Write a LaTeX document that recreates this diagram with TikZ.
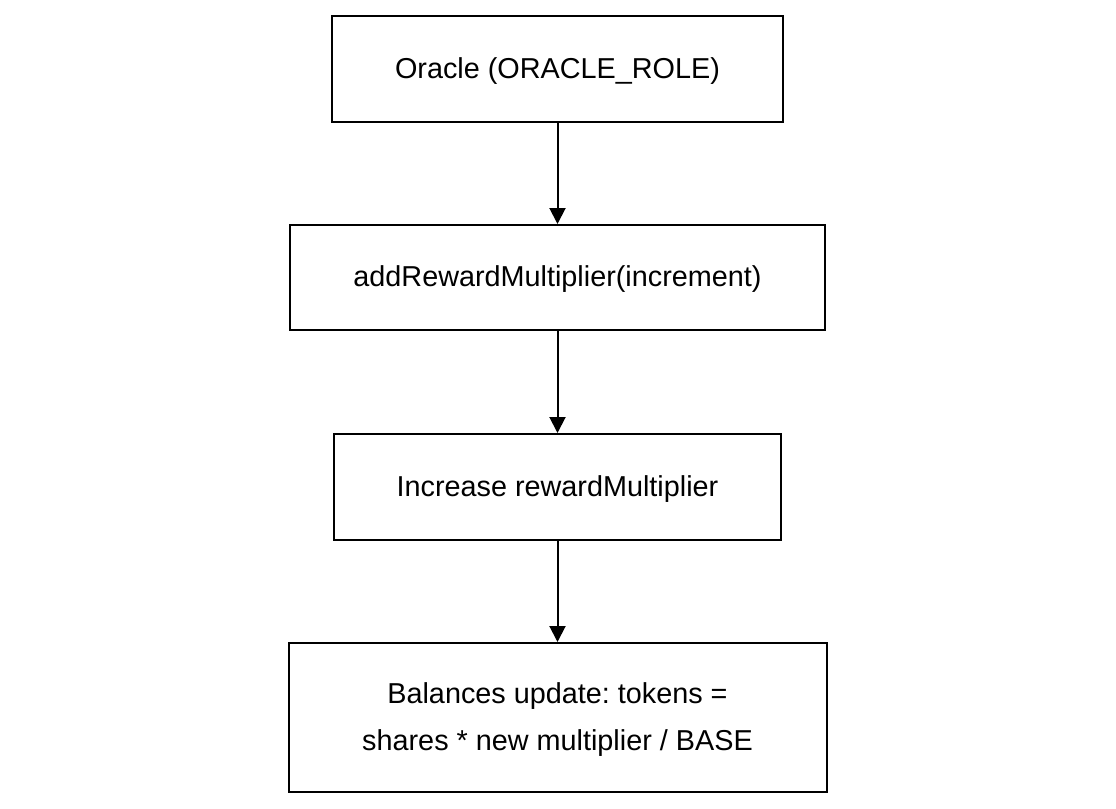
\documentclass[tikz,border=0pt]{standalone}
\usepackage{fontspec}
\setmainfont{Liberation Sans}
\usetikzlibrary{arrows.meta}
\newcommand{\lowtext}[1]{\raisebox{-1.5pt}{\begin{tabular}{@{}c@{}}#1\end{tabular}}}
\begin{document}
\frenchspacing
\begin{tikzpicture}[x=0.5pt,y=-0.5pt,
  box/.style={draw=black,line width=1pt,fill=white,inner sep=0pt,
    font=\fontsize{14.4}{23.5}\selectfont\frenchspacing},
  conn/.style={line width=1pt,-{Triangle[length=8pt,width=8pt]}}]
\useasboundingbox (0,0) rectangle (1116,809);
\node[box,minimum width=451*0.5pt,minimum height=106*0.5pt] (oracle) at (557.5,69) {\lowtext{Oracle (ORACLE\_ROLE)}};
\node[box,minimum width=535*0.5pt,minimum height=105*0.5pt] (add) at (557.5,277.5) {\lowtext{addRewardMultiplier(increment)}};
\node[box,minimum width=447*0.5pt,minimum height=106*0.5pt] (inc) at (557.5,487) {\lowtext{Increase rewardMultiplier}};
\node[box,minimum width=538*0.5pt,minimum height=149*0.5pt] (bal) at (557.5,717.5) {\lowtext{Balances update: tokens =\\shares * new multiplier / BASE}};
\draw[conn] (oracle.south) -- (add.north);
\draw[conn] (add.south) -- (inc.north);
\draw[conn] (inc.south) -- (bal.north);
\end{tikzpicture}
\end{document}
